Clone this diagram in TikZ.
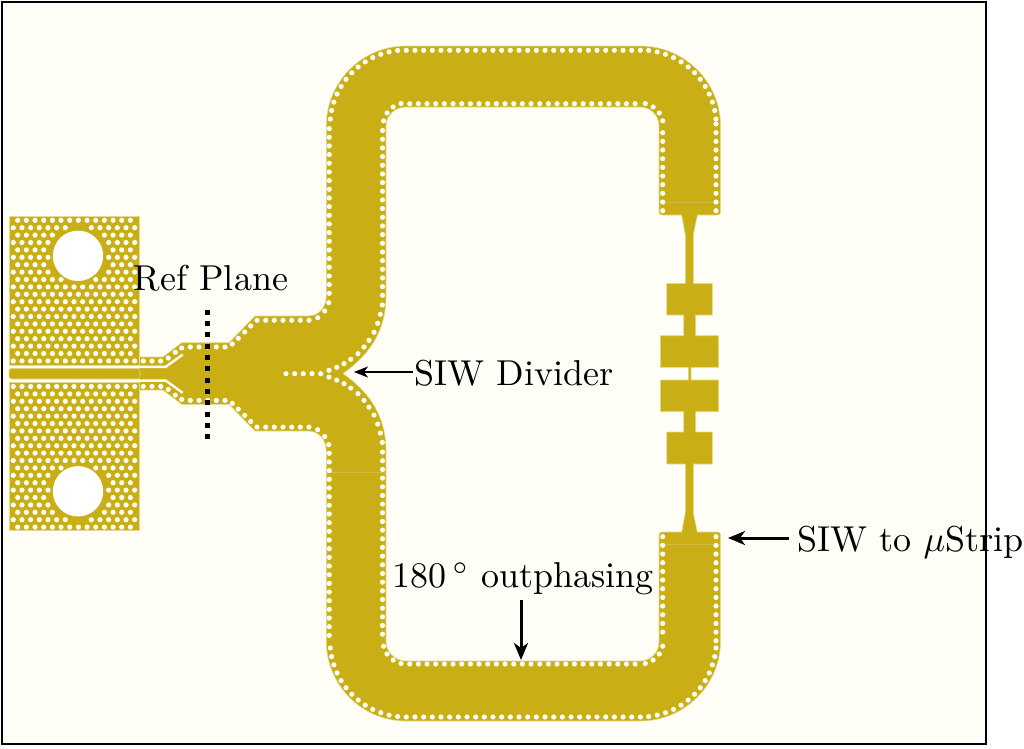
\documentclass[tikz,border=0pt]{standalone}
\usetikzlibrary{arrows.meta}
\definecolor{paper}{HTML}{FFFFF8}
\definecolor{metal}{HTML}{C9AE16}
\definecolor{metaledge}{HTML}{E6DB90}
\definecolor{seam}{HTML}{D2BC45}
\tikzset{
  x=1pt,y=-1pt,
  metalfill/.style={fill=metal,draw=metaledge,line width=0.6pt,line join=miter},
  slit/.style={draw=paper,line width=2.4pt},
  seamline/.style={draw=seam,line width=0.7pt},
  via/.style={fill=paper},
  lab/.style={scale=3.6,inner sep=0pt,text=black},
  thinarrow/.style={draw=black,line width=1.7pt,-{Stealth[length=14pt,width=11pt,inset=4pt]}},
  thickarrow/.style={draw=black,line width=3pt,-{Stealth[length=17pt,width=14pt,inset=5pt]}},
}
\newcommand{\viaat}[2]{\fill[via] (#1,#2) circle (2.6pt);}
\newcommand{\viamir}[2]{\viaat{#1}{#2}\pgfmathsetmacro{\myy}{747.4-#2}\viaat{#1}{\myy}}
\begin{document}
\begin{tikzpicture}
\useasboundingbox (0,0) rectangle (1024,748);
\fill[white] (0,0) rectangle (1024,748);
\fill[paper] (2,2) rectangle (986,744);

% main metal body
\path[metalfill] (139,357) -- (163,357) -- (181.7,342.7) -- (229,342.7) -- (255,316) -- (308,316)
  .. controls (319,316) and (326.3,307) .. (326.3,296)
  -- (326.3,126) .. controls (326.3,81.8) and (361.8,46) .. (406,46)
  -- (640,46) .. controls (684.5,46) and (720.5,81.8) .. (720.5,126)
  -- (720.5,212) .. controls (720.5,214) and (719.5,215) .. (717.5,215)
  -- (662,215) .. controls (660,215) and (659,214) .. (659,212)
  -- (659,126) .. controls (659,115.5) and (650.5,107) .. (640,107)
  -- (406,107) .. controls (395,107) and (386,115.5) .. (386,126)
  -- (386,296) .. controls (386,335) and (365,358) .. (343,373.5)
  .. controls (365,389) and (386,412) .. (386,451)
  -- (386,641) .. controls (386,652) and (395,661) .. (406,661)
  -- (640,661) .. controls (650.5,661) and (659,652.5) .. (659,642)
  -- (659,535) .. controls (659,533) and (660,532) .. (662,532)
  -- (717.5,532) .. controls (719.5,532) and (720.5,533) .. (720.5,535)
  -- (720.5,641) .. controls (720.5,685.2) and (684.5,721) .. (640,721)
  -- (406,721) .. controls (361.8,721) and (326.3,685.2) .. (326.3,641)
  -- (326.3,451) .. controls (326.3,440) and (319,431) .. (308,431)
  -- (255,431) -- (229,404.3) -- (181.7,404.3) -- (163,390) -- (139,390) -- cycle;

% slits of the coplanar feed
\draw[slit] (139,366.8) -- (165.7,366.8) -- (182.7,354.6);
\draw[slit] (139,380.6) -- (165.7,380.6) -- (182.7,392.8);

% launch ground patches and centre strip
\path[metalfill] (9,216) rectangle (139.3,365.3);
\path[metalfill] (9,382) rectangle (139.3,530.7);
\path[metalfill,rounded corners=2.5pt] (9,368.3) rectangle (140,379);
\draw[seamline] (139.3,368.6) -- (139.3,378.8);

% microstrip filter
\path[metalfill] (681.7,215) -- (685.3,235) -- (685.3,283.3) -- (666.7,283.3) -- (666.7,315)
  -- (683.7,315) -- (683.7,335.7) -- (660.3,335.7) -- (660.3,367.3) -- (688.3,367.3) -- (688.3,380)
  -- (660.3,380) -- (660.3,411.7) -- (683.7,411.7) -- (683.7,432) -- (666.7,432) -- (666.7,464)
  -- (685.3,464) -- (685.3,512.7) -- (681.7,532.3)
  -- (697.3,532.3) -- (693.3,512.7) -- (693.3,464) -- (712.3,464) -- (712.3,432) -- (695.7,432)
  -- (695.7,411.7) -- (718.7,411.7) -- (718.7,380) -- (691,380) -- (691,367.3) -- (718.7,367.3)
  -- (718.7,335.7) -- (695.7,335.7) -- (695.7,315) -- (712.3,315) -- (712.3,283.3) -- (693.3,283.3)
  -- (693.3,235) -- (697.3,215) -- cycle;
\fill[metal] (682.2,213) rectangle (696.8,216.5);
\fill[metal] (682.2,530.8) rectangle (696.8,534);

% section seams
\draw[seamline] (660,202) -- (719.5,202);
\draw[seamline] (660,544.3) -- (719.5,544.3);
\draw[seamline] (327,472) -- (385,472);

% launch patch via field
\foreach \k in {0,...,19}{
  \pgfmathsetmacro{\ry}{220.3+7.4*\k}
  \pgfmathtruncatemacro{\odd}{mod(\k,2)}
  \pgfmathsetmacro{\rx}{\odd==1 ? 13.3 : 17.7}
  \pgfmathtruncatemacro{\imax}{\odd==1 ? 14 : 13}
  \foreach \i in {0,...,\imax}{
    \pgfmathsetmacro{\px}{\rx+8.67*\i}
    \pgfmathsetmacro{\dd}{sqrt((\px-78)*(\px-78)+(\ry-255.8)*(\ry-255.8))}
    \ifdim\dd pt>28.7pt
      \viamir{\px}{\ry}
    \fi
  }
}

% feed and taper vias (mirrored about the feed axis)
\foreach \p/\q in {143.3/361,152/361,160.7/361,168.3/358,175.3/352.3,181.7/348,190.3/347,199/347,
  207.7/347,216.3/347,225/347,232.3/344,238.3/338.3,244.7/332,250.7/326,257/320.3,265.7/320.3,
  274.3/320.3,283/320.3,291.7/320.3,300.3/320.3,309/320.3,317.7/317.7,324.7/311,328.7/302.7,
  382.3/305,380.3/314.3,377.7/323.3,374/332.3,369/340.3,364/347,358/353.7,350.7/359.3,344/363.7,
  336.7/367.3,329/370.3}{\viamir{\p}{\q}}
% divider centre row
\foreach \p in {286,294.7,303.3,312,320.7}{\viaat{\p}{373.7}}

% top and bottom straight runs
\foreach \i in {0,...,27}{\pgfmathsetmacro{\px}{406.3+8.67*\i}\viaat{\px}{50.3}\viaat{\px}{717}}
\foreach \i in {0,...,26}{\pgfmathsetmacro{\px}{409.7+8.67*\i}\viaat{\px}{103.7}\viaat{\px}{664}}

% bends
\foreach \c/\d/\sx/\sy in {406/126/-1/-1,640.3/126/1/-1,406/641/-1/1,640.3/641/1/1}{
  \foreach \j in {0,...,12}{
    \pgfmathsetmacro{\aa}{6.3+6.54*\j}
    \pgfmathsetmacro{\px}{\c+\sx*76*sin(\aa)}
    \pgfmathsetmacro{\py}{\d+\sy*76*cos(\aa)}
    \viaat{\px}{\py}
  }
  \foreach \aa in {12.5,34,55.5,77}{
    \pgfmathsetmacro{\px}{\c+\sx*23*sin(\aa)}
    \pgfmathsetmacro{\py}{\d+\sy*23*cos(\aa)}
    \viaat{\px}{\py}
  }
}

% left limb walls
\foreach \i in {0,...,19}{\pgfmathsetmacro{\py}{293.3-8.67*\i}\viaat{329.3}{\py}}
\foreach \i in {0,...,19}{\pgfmathsetmacro{\py}{295.3-8.67*\i}\viaat{382.5}{\py}}
\foreach \i in {0,...,21}{\pgfmathsetmacro{\py}{453.3+8.67*\i}\viaat{329.3}{\py}\pgfmathsetmacro{\pz}{452.1+8.67*\i}\viaat{382.5}{\pz}}

% right limb walls
\foreach \i in {0,...,10}{\pgfmathsetmacro{\py}{210.7-8.67*\i}\viaat{716}{\py}}
\foreach \i in {0,...,9}{\pgfmathsetmacro{\py}{210.7-8.67*\i}\viaat{662.7}{\py}}
\foreach \i in {0,...,12}{\pgfmathsetmacro{\py}{536.7+8.67*\i}\viaat{716}{\py}}
\foreach \i in {0,...,11}{\pgfmathsetmacro{\py}{536.7+8.67*\i}\viaat{662.7}{\py}}

% mounting holes
\fill[white] (78,255.8) circle (25.2pt);
\fill[white] (78,491.3) circle (25.2pt);

% reference plane
\coordinate (reftop) at (207.7,309.8);
\coordinate (refbot) at (207.7,439.2);
\draw[black,line width=5pt,dash pattern=on 5pt off 6.3pt] (reftop) -- (refbot);

% labels
\node[lab] (reflab) at (211,278.5) {Ref Plane};
\node[lab] (divlab) at (514,373.5) {SIW Divider};
\node[lab] (striplab) at (910.5,542.5) {SIW to $\mu$Strip};
\node[lab] (phaselab) at (523,579) {180$\,^\circ$ outphasing};

% annotation arrows
\coordinate (divstart) at (413,372);
\coordinate (divtip) at (354,372);
\coordinate (stripstart) at (789,538);
\coordinate (striptip) at (728,538);
\coordinate (phasestart) at (521,600);
\coordinate (phasetip) at (521,660);
\draw[thinarrow] (divstart) -- (divtip);
\draw[thickarrow] (stripstart) -- (striptip);
\draw[thickarrow] (phasestart) -- (phasetip);

% frame
\draw[black,line width=1.5pt] (2,2) rectangle (986,744);
\end{tikzpicture}
\end{document}
